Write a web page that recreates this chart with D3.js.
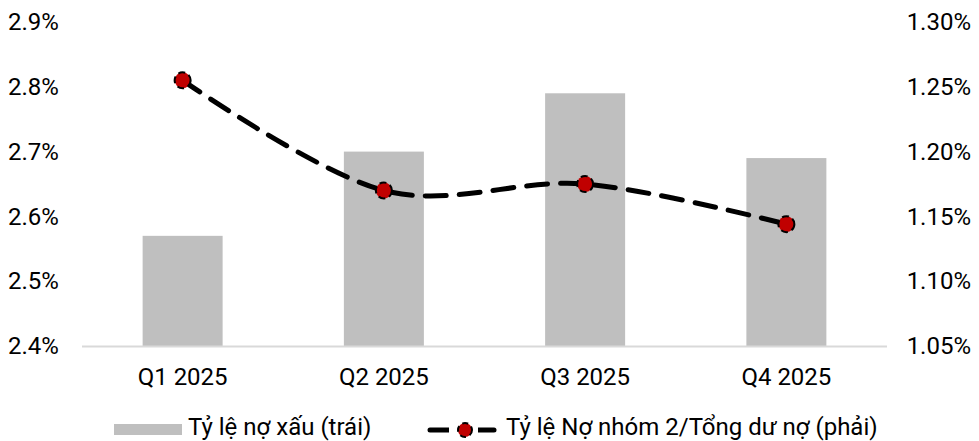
<!DOCTYPE html>
<html>
<head>
<meta charset="utf-8">
<script src="https://cdn.jsdelivr.net/npm/d3@7"></script>
<style>
  body { margin: 0; background: #fff; }
  svg { display: block; font-family: Roboto, "Noto Sans", sans-serif; }
</style>
</head>
<body>
<svg id="chart" width="979" height="441"></svg>
<script>
// Quarterly asset-quality figures
const quarters = ["Q1 2025", "Q2 2025", "Q3 2025", "Q4 2025"];
const nplRatio = [2.57, 2.70, 2.79, 2.69];          // Tỷ lệ nợ xấu, left axis (%)
const group2Ratio = [1.255, 1.170, 1.175, 1.144];   // Nợ nhóm 2 / Tổng dư nợ, right axis (%)
const leftTicks = [2.4, 2.5, 2.6, 2.7, 2.8, 2.9];
const rightTicks = [1.05, 1.10, 1.15, 1.20, 1.25, 1.30];
const seriesNames = ["Tỷ lệ nợ xấu (trái)", "Tỷ lệ Nợ nhóm 2/Tổng dư nợ (phải)"];

const svg = d3.select("#chart");
const plot = { left: 82, right: 887, top: 22, bottom: 346 };

const x = d3.scaleBand().domain(quarters).range([plot.left, plot.right]).paddingInner(0.6).paddingOuter(0.3);
const yL = d3.scaleLinear().domain([2.4, 2.9]).range([plot.bottom, plot.top]);
const yR = d3.scaleLinear().domain([1.05, 1.30]).range([plot.bottom, plot.top]);

const fontSize = 24;
const textColor = "#000";

// Bars
svg.append("g").selectAll("rect").data(quarters).join("rect")
  .attr("x", d => x(d) + x.bandwidth() / 2 - 40)
  .attr("width", 80)
  .attr("y", (d, i) => yL(nplRatio[i]))
  .attr("height", (d, i) => yL(2.4) - yL(nplRatio[i]))
  .attr("fill", "#bfbfbf");

// Category axis line
svg.append("line")
  .attr("x1", plot.left).attr("x2", plot.right)
  .attr("y1", plot.bottom + 0.5).attr("y2", plot.bottom + 0.5)
  .attr("stroke", "#d9d9d9").attr("stroke-width", 2);

// Left axis labels
const leftAxis = d3.axisLeft(yL).tickValues(leftTicks).tickFormat(d => d3.format(".1f")(d) + "%").tickSize(0);
const gL = svg.append("g").attr("transform", "translate(8,0)").call(leftAxis);
gL.select(".domain").remove();
gL.selectAll("text").attr("font-size", fontSize).attr("fill", textColor).attr("font-family", "Roboto")
  .attr("x", 0).attr("text-anchor", "start");

// Right axis labels
const rightAxis = d3.axisRight(yR).tickValues(rightTicks).tickFormat(d => d3.format(".2f")(d) + "%").tickSize(0);
const gR = svg.append("g").attr("transform", "translate(971,0)").call(rightAxis);
gR.select(".domain").remove();
gR.selectAll("text").attr("font-size", fontSize).attr("fill", textColor).attr("font-family", "Roboto")
  .attr("x", 0).attr("text-anchor", "end");

// Category labels
const bottomAxis = d3.axisBottom(x).tickSize(0);
const gB = svg.append("g").attr("transform", `translate(0,${plot.bottom})`).call(bottomAxis);
gB.select(".domain").remove();
gB.selectAll("text").attr("font-size", fontSize).attr("fill", textColor).attr("font-family", "Roboto").attr("dy", "0").attr("y", 39);

// Smoothed dashed line on right axis
const pts = quarters.map((q, i) => [x(q) + x.bandwidth() / 2, yR(group2Ratio[i])]);
svg.append("path")
  .attr("d", d3.line().curve(d3.curveCatmullRom.alpha(0))(pts))
  .attr("fill", "none")
  .attr("stroke", "#000")
  .attr("stroke-width", 5)
  .attr("stroke-dasharray", "21 13")
  .attr("stroke-linecap", "round");

// Markers
svg.append("g").selectAll("circle").data(pts).join("circle")
  .attr("cx", d => d[0]).attr("cy", d => d[1]).attr("r", 8)
  .attr("fill", "#c00000")
  .attr("stroke", "#000").attr("stroke-width", 2)
  .attr("stroke-dasharray", "7 4");

// Legend
const lg = svg.append("g");
lg.append("rect").attr("x", 114).attr("y", 424).attr("width", 68).attr("height", 11).attr("fill", "#bfbfbf");
lg.append("text").attr("x", 188).attr("y", 435).attr("font-size", fontSize).attr("fill", textColor).text(seriesNames[0]);

lg.append("line").attr("x1", 430).attr("x2", 494).attr("y1", 430).attr("y2", 430)
  .attr("stroke", "#000").attr("stroke-width", 5).attr("stroke-linecap", "round");
lg.append("line").attr("x1", 449).attr("x2", 478).attr("y1", 430).attr("y2", 430)
  .attr("stroke", "#fff").attr("stroke-width", 7);
lg.append("circle").attr("cx", 465).attr("cy", 430).attr("r", 7)
  .attr("fill", "#c00000").attr("stroke", "#000").attr("stroke-width", 2).attr("stroke-dasharray", "6 4");
lg.append("text").attr("x", 506).attr("y", 435).attr("font-size", fontSize).attr("fill", textColor).text(seriesNames[1]);
</script>
</body>
</html>
